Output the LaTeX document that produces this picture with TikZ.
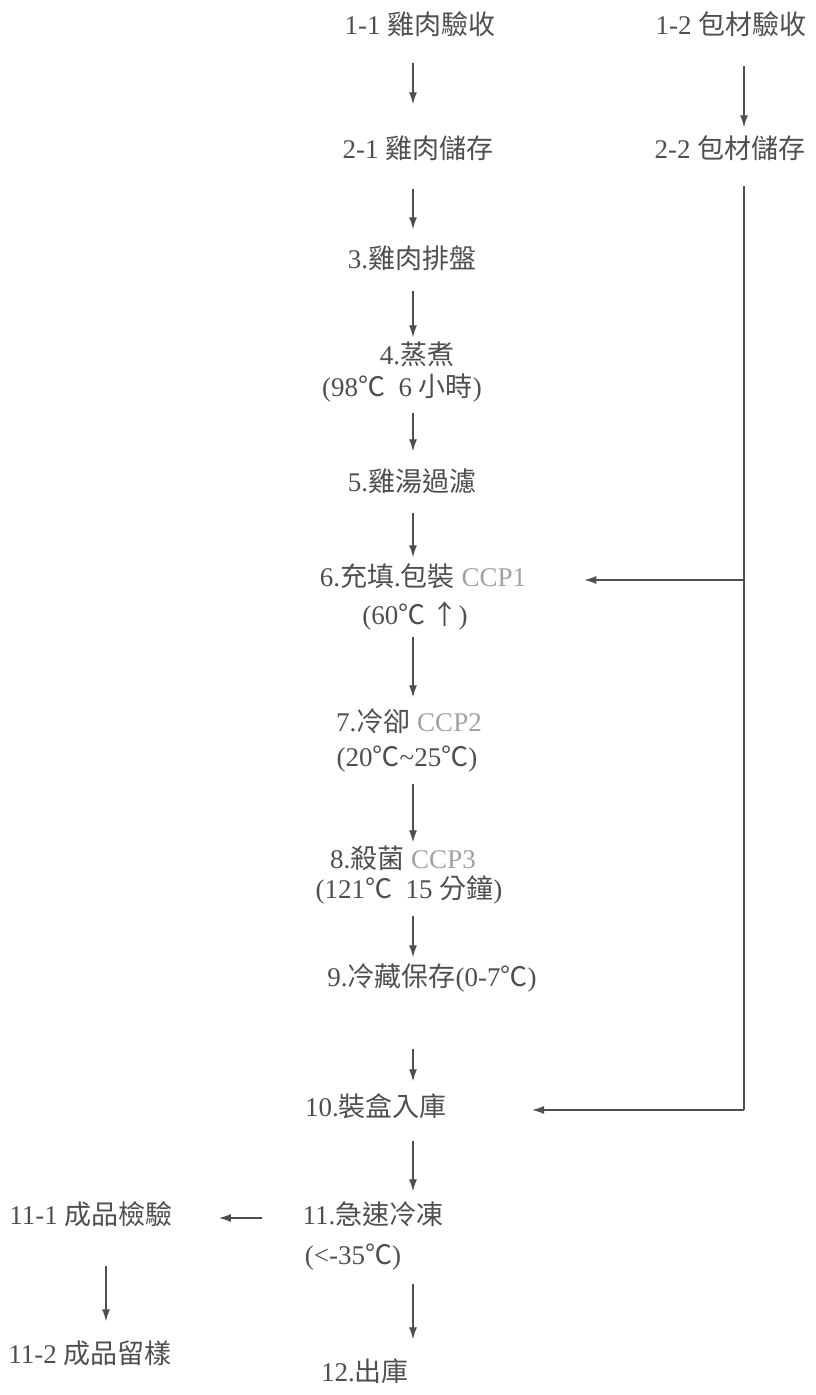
\documentclass[tikz,border=0pt]{standalone}
\usepackage{fontspec}
\setmainfont{Liberation Serif}
\newfontfamily\cjk[Scale=1.0]{Noto Sans CJK TC}
\newcommand{\zh}[1]{{\cjk #1}}
\usetikzlibrary{arrows.meta}
\definecolor{ink}{HTML}{4F4F4F}
\definecolor{ccp}{HTML}{A2A2A2}

\begin{document}
\begin{tikzpicture}[x=1pt,y=-1pt,
    stage/.style={inner sep=0pt,text height=19pt,text depth=6pt,text=ink,
        font=\fontsize{27}{32}\selectfont},
    flow/.style={draw=ink,line width=1.3pt,-{Latex[length=12pt,width=8pt]}},
    rule/.style={draw=ink,line width=1.3pt}]
        \useasboundingbox[fill=white] (0,0) rectangle (816,1395);
        \coordinate (spine) at (413,0);
        \coordinate (rail) at (744,0);

        \node[stage] (recv1) at (420,28) {1-1 \zh{雞肉驗收}};
        \node[stage] (recv2) at (731,28) {1-2 \zh{包材驗收}};
        \node[stage] (store1) at (418,152) {2-1 \zh{雞肉儲存}};
        \node[stage] (store2) at (730,152) {2-2 \zh{包材儲存}};
        \node[stage] (tray) at (412,262) {3.\zh{雞肉排盤}};
        \node[stage] (steam) at (417,358) {4.\zh{蒸煮}};
        \node[stage] (steamt) at (402,390) {(98\zh{℃}\ \ 6 \zh{小時})};
        \node[stage] (filter) at (412,485) {5.\zh{雞湯過濾}};
        \node[stage] (fill) at (423,580) {6.\zh{充填}.\zh{包裝} \textcolor{ccp}{CCP1}};
        \node[stage] (fillt) at (415,618) {(60\zh{℃ ↑})};
        \node[stage] (cool) at (409,725) {7.\zh{冷卻} \textcolor{ccp}{CCP2}};
        \node[stage] (coolt) at (407,760) {(20\zh{℃}\textasciitilde25\zh{℃})};
        \node[stage] (steril) at (403,862) {8.\zh{殺菌} \textcolor{ccp}{CCP3}};
        \node[stage] (sterilt) at (409,892) {(121\zh{℃}\ \ 15 \zh{分鐘})};
        \node[stage] (chill) at (432,980) {9.\zh{冷藏保存}(0-7\zh{℃})};
        \node[stage] (box) at (376,1110) {10.\zh{裝盒入庫}};
        \node[stage] (freeze) at (373,1218) {11.\zh{急速冷凍}};
        \node[stage] (freezet) at (353,1258) {(<-35\zh{℃})};
        \node[stage] (ship) at (365,1375) {12.\zh{出庫}};
        \node[stage] (inspect) at (91,1218) {11-1 \zh{成品檢驗}};
        \node[stage] (sample) at (90,1357) {11-2 \zh{成品留樣}};

        % main line
        \path[flow,shorten <=22pt,shorten >=35pt] (recv1.south -| spine) -- (store1.north -| spine);
        \path[flow,shorten <=24pt,shorten >=20pt] (store1.south -| spine) -- (tray.north -| spine);
        \path[flow,shorten <=16pt,shorten >=8pt] (tray.south -| spine) -- (steam.north -| spine);
        \path[flow,shorten <=10pt,shorten >=21pt] (steamt.south -| spine) -- (filter.north -| spine);
        \path[flow,shorten <=15pt,shorten >=10pt] (filter.south -| spine) -- (fill.north -| spine);
        \path[flow,shorten <=6pt,shorten >=15pt] (fillt.south -| spine) -- (cool.north -| spine);
        \path[flow,shorten <=11pt,shorten >=7pt] (coolt.south -| spine) -- (steril.north -| spine);
        \path[flow,shorten <=11pt,shorten >=10pt] (sterilt.south -| spine) -- (chill.north -| spine);
        \path[flow,shorten <=56pt,shorten >=16pt] (chill.south -| spine) -- (box.north -| spine);
        \path[flow,shorten <=18pt,shorten >=14pt] (box.south -| spine) -- (freeze.north -| spine);
        \path[flow,shorten <=13pt,shorten >=23pt] (freezet.south -| spine) -- (ship.north -| spine);

        % packaging line
        \path[flow,shorten <=25pt,shorten >=12pt] (recv2.south -| rail) -- (store2.north -| rail);
        \path[rule,shorten <=21pt] (store2.south -| rail) -- (box -| rail);
        \path[flow,shorten >=58pt] (fill -| rail) -- (fill.east);
        \path[flow,shorten >=85pt] (box -| rail) -- (box.east);

        % product check
        \path[flow,shorten <=40pt,shorten >=46pt] (freeze.west) -- (inspect.east);
        \path[flow,shorten <=35pt,shorten >=23pt] ([xshift=15pt]inspect.south) -- ([xshift=15pt]inspect.south |- sample.north);
    \end{tikzpicture}
\end{document}
